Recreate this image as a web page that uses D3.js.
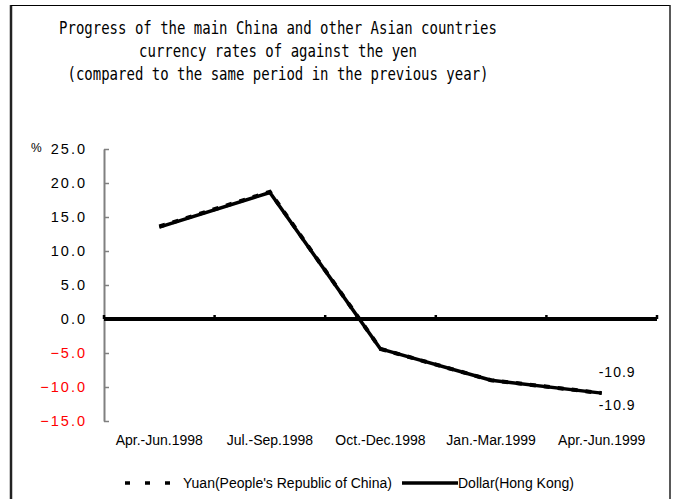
<!DOCTYPE html>
<html>
<head>
<meta charset="utf-8">
<script src="https://cdn.jsdelivr.net/npm/d3@7.9.0/dist/d3.min.js"></script>
<style>
  body { margin: 0; background: #fff; }
  svg { display: block; }
</style>
</head>
<body>
<div id="chart"></div>
<script>
const titleLines = [
  'Progress of the main China and other Asian countries',
  'currency rates of against the yen',
  '(compared to the same period in the previous year)'
];
const periods = ['Apr.-Jun.1998', 'Jul.-Sep.1998', 'Oct.-Dec.1998', 'Jan.-Mar.1999', 'Apr.-Jun.1999'];
const yuan = [13.6, 18.7, -4.4, -9.0, -10.9];
const hkDollar = [13.5, 18.6, -4.4, -9.0, -10.9];
const yTicks = [25, 20, 15, 10, 5, 0, -5, -10, -15];
const endLabels = ['-10.9', '-10.9'];
const seriesNames = ["Yuan(People's Republic of China)", 'Dollar(Hong Kong)'];

const width = 678, height = 499;
const svg = d3.select('#chart').append('svg')
  .attr('width', width).attr('height', height);

// frame
svg.append('line').attr('x1', 11).attr('x2', 11).attr('y1', 5).attr('y2', height)
  .attr('stroke', '#222').attr('stroke-width', 2.5);
svg.append('line').attr('x1', 11).attr('x2', 670).attr('y1', 5.5).attr('y2', 5.5)
  .attr('stroke', '#000').attr('stroke-width', 1);
svg.append('line').attr('x1', 670).attr('x2', 670).attr('y1', 5).attr('y2', height)
  .attr('stroke', '#222').attr('stroke-width', 1.5);

// title (condensed monospace look)
svg.append('g')
  .attr('transform', 'translate(278,0) scale(0.8,1)')
  .selectAll('text')
  .data(titleLines)
  .join('text')
  .attr('x', 0)
  .attr('y', (d, i) => 34 + i * 23)
  .attr('text-anchor', 'middle')
  .attr('font-family', '"DejaVu Sans Mono", "Liberation Mono", monospace')
  .attr('font-size', 17.5)
  .attr('fill', '#000')
  .text(d => d);

const x = d3.scaleBand().domain(periods).range([104, 657]);
const y = d3.scaleLinear().domain([-15, 25]).range([421, 149]);

// y axis
const yAxis = svg.append('g')
  .attr('transform', 'translate(104,0)')
  .call(d3.axisLeft(y).tickValues(yTicks).tickSizeInner(-5).tickSizeOuter(0).tickPadding(17)
    .tickFormat(d3.format('.1f')));
yAxis.select('.domain').attr('stroke', '#808080').attr('stroke-width', 2);
yAxis.selectAll('.tick line').attr('stroke', '#808080').attr('stroke-width', 1.5);
yAxis.selectAll('.tick text')
  .attr('font-family', '"Liberation Sans", Arial, sans-serif')
  .attr('font-size', 14.5)
  .attr('letter-spacing', 2)
  .attr('fill', d => d < 0 ? '#ff0000' : '#000');

svg.append('text')
  .attr('x', 31).attr('y', 152)
  .attr('font-family', '"Liberation Sans", Arial, sans-serif')
  .attr('font-size', 12)
  .text('%');

// zero line with category ticks
const bounds = periods.map(p => x(p)).concat([x.range()[1]]);
svg.append('g').selectAll('line')
  .data(bounds)
  .join('line')
  .attr('x1', d => d).attr('x2', d => d)
  .attr('y1', y(0) - 4).attr('y2', y(0))
  .attr('stroke', '#000').attr('stroke-width', 2.5);
svg.append('line')
  .attr('x1', x.range()[0]).attr('x2', x.range()[1])
  .attr('y1', y(0)).attr('y2', y(0))
  .attr('stroke', '#000').attr('stroke-width', 4);

// category labels
svg.append('g').selectAll('text')
  .data(periods)
  .join('text')
  .attr('x', d => x(d) + x.bandwidth() / 2)
  .attr('y', 445)
  .attr('text-anchor', 'middle')
  .attr('font-family', '"Liberation Sans", Arial, sans-serif')
  .attr('font-size', 14)
  .text(d => d);

const line = d3.line()
  .x((d, i) => x(periods[i]) + x.bandwidth() / 2)
  .y(d => y(d));

svg.append('path')
  .datum(yuan)
  .attr('d', line)
  .attr('fill', 'none')
  .attr('stroke', '#000')
  .attr('stroke-width', 4)
  .attr('stroke-dasharray', '6,8');
svg.append('path')
  .datum(hkDollar)
  .attr('d', line)
  .attr('fill', 'none')
  .attr('stroke', '#000')
  .attr('stroke-width', 3.5)
  .attr('stroke-linejoin', 'round');

// end labels
const lastX = x(periods[4]) + x.bandwidth() / 2;
svg.append('g').selectAll('text')
  .data(endLabels)
  .join('text')
  .attr('x', lastX - 3)
  .attr('y', (d, i) => y(i === 0 ? yuan[4] : hkDollar[4]) + (i === 0 ? -16 : 17))
  .attr('font-family', '"Liberation Sans", Arial, sans-serif')
  .attr('font-size', 14)
  .attr('letter-spacing', 1)
  .text(d => d);

// legend
const legY = 483;
svg.append('line')
  .attr('x1', 125).attr('x2', 170).attr('y1', legY).attr('y2', legY)
  .attr('stroke', '#000').attr('stroke-width', 3.5)
  .attr('stroke-dasharray', '5,15');
svg.append('text')
  .attr('x', 183).attr('y', legY + 5)
  .attr('font-family', '"Liberation Sans", Arial, sans-serif')
  .attr('font-size', 14)
  .text(seriesNames[0]);
svg.append('line')
  .attr('x1', 402).attr('x2', 458).attr('y1', legY).attr('y2', legY)
  .attr('stroke', '#000').attr('stroke-width', 3.5);
svg.append('text')
  .attr('x', 458).attr('y', legY + 5)
  .attr('font-family', '"Liberation Sans", Arial, sans-serif')
  .attr('font-size', 14)
  .text(seriesNames[1]);
</script>
</body>
</html>
